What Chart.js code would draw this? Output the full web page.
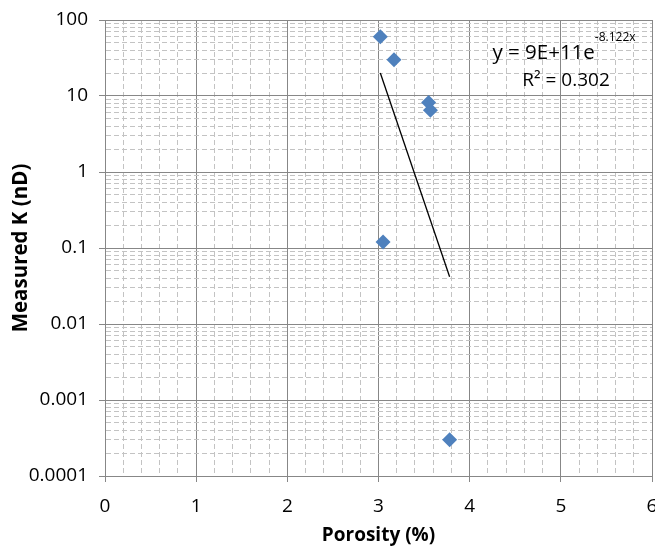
<!DOCTYPE html>
<html>
<head>
<meta charset="utf-8">
<script src="https://cdn.jsdelivr.net/npm/chart.js@4.4.1/dist/chart.umd.min.js"></script>
<style>
  html, body { margin: 0; padding: 0; background: #fff; }
  #chart { display: block; }
</style>
</head>
<body>
<canvas id="chart" width="655" height="547"></canvas>
<script>
// porosity (%) vs measured permeability (nD)
const porosity  = [3.02, 3.17, 3.55, 3.57, 3.05, 3.78];
const measuredK = [60, 30, 8.2, 6.5, 0.12, 0.0003];

// exponential trendline  y = 9E+11 e^(-8.122x),  R² = 0.302
const trendA = 9e11;
const trendB = -8.122;
const trendR2 = '0.302';

const xTickLabels = [0, 1, 2, 3, 4, 5, 6];
const yTickLabels = [0.0001, 0.001, 0.01, 0.1, 1, 10, 100];

const majorColor = '#878787';
const minorColor = '#c3c3c3';
const pointColor = '#4f81bd';
const font = 'Open Sans';

const points = porosity.map((x, i) => ({ x: x, y: measuredK[i] }));
const xMin = Math.min(...porosity), xMax = Math.max(...porosity);
const trendPoints = [xMin, xMax].map(x => ({ x: x, y: trendA * Math.exp(trendB * x) }));

// grid ticks: majors at the labels, 4 minors between x labels, 2..9 inside each decade
function xGridTicks() {
  let t = [];
  for (let i = 0; i < xTickLabels.length; i++) {
    t.push({ value: xTickLabels[i], major: true });
    if (i < xTickLabels.length - 1) {
      for (let k = 1; k < 5; k++) {
        t.push({ value: xTickLabels[i] + k * (xTickLabels[i + 1] - xTickLabels[i]) / 5, major: false });
      }
    }
  }
  return t;
}
function yGridTicks() {
  let t = [];
  for (let i = 0; i < yTickLabels.length; i++) {
    t.push({ value: yTickLabels[i], major: true });
    if (i < yTickLabels.length - 1) {
      for (let k = 2; k < 10; k++) t.push({ value: yTickLabels[i] * k, major: false });
    }
  }
  return t;
}

const isMajor = c => c.tick && c.tick.major;
function gridOpts() {
  return {
    color: c => isMajor(c) ? majorColor : minorColor,
    tickColor: c => isMajor(c) ? majorColor : 'rgba(0,0,0,0)',
    lineWidth: 1,
    tickLength: 6
  };
}
function borderOpts() {
  return {
    color: majorColor,
    width: 1,
    dash: c => (c.tick && !c.tick.major) ? [5, 3] : []
  };
}

// equation label next to the trendline
const equationLabel = {
  id: 'equationLabel',
  afterDatasetsDraw(chart) {
    const ctx = chart.ctx;
    const cx = 564;
    const main = 'y = 9E+11e';
    const sup = '-8.122x';
    ctx.save();
    ctx.fillStyle = '#000';
    ctx.textBaseline = 'alphabetic';
    ctx.font = '20.5px "' + font + '"';
    const wMain = ctx.measureText(main).width;
    ctx.font = '12px "' + font + '"';
    const wSup = ctx.measureText(sup).width;
    const x0 = cx - (wMain + wSup) / 2;
    ctx.textAlign = 'left';
    ctx.font = '20.5px "' + font + '"';
    ctx.fillText(main, x0, 59);
    ctx.font = '12px "' + font + '"';
    ctx.fillText(sup, x0 + wMain, 41);
    ctx.font = '19px "' + font + '"';
    ctx.textAlign = 'center';
    ctx.fillText('R² = ' + trendR2, cx + 2, 86);
    ctx.restore();
  }
};

new Chart(document.getElementById('chart'), {
  type: 'scatter',
  data: {
    datasets: [
      {
        label: 'Measured K',
        data: points,
        pointStyle: 'rectRot',
        pointRadius: 7.5,
        pointHoverRadius: 7.5,
        backgroundColor: pointColor,
        borderColor: pointColor,
        borderWidth: 0,
        order: 2
      },
      {
        label: 'Expon. trend',
        data: trendPoints,
        showLine: true,
        borderColor: '#000',
        borderWidth: 1.3,
        pointRadius: 0,
        fill: false,
        order: 1
      }
    ]
  },
  options: {
    responsive: false,
    animation: false,
    devicePixelRatio: 1,
    layout: { autoPadding: false, padding: { left: 0, right: 3, top: 20, bottom: 0 } },
    plugins: {
      legend: { display: false },
      tooltip: { enabled: false }
    },
    scales: {
      x: {
        type: 'linear',
        position: 'bottom',
        min: 0,
        max: 6,
        afterBuildTicks: s => { s.ticks = xGridTicks(); },
        afterFit: s => { s.height = 71; s.paddingLeft = 0; s.paddingRight = 0; },
        ticks: {
          autoSkip: false,
          maxRotation: 0,
          padding: 13,
          color: '#000',
          font: { family: font, size: 19 },
          callback: (v, i, t) => t[i].major ? String(v) : ''
        },
        grid: gridOpts(),
        border: borderOpts(),
        title: {
          display: true,
          text: 'Porosity (%)',
          color: '#000',
          font: { family: font, size: 19, weight: 'bold' },
          padding: { top: 0, bottom: 0 }
        }
      },
      y: {
        type: 'logarithmic',
        position: 'left',
        min: 0.0001,
        max: 100,
        afterBuildTicks: s => { s.ticks = yGridTicks(); },
        afterFit: s => { s.width = 105; s.paddingTop = 0; s.paddingBottom = 0; },
        ticks: {
          autoSkip: false,
          padding: 11,
          color: '#000',
          font: { family: font, size: 19 },
          callback: (v, i, t) => t[i].major ? String(v) : ''
        },
        grid: gridOpts(),
        border: borderOpts(),
        title: {
          display: true,
          text: 'Measured K (nD)',
          color: '#000',
          font: { family: font, size: 20.5, weight: 'bold' },
          padding: { top: 9, bottom: 0 }
        }
      }
    }
  },
  plugins: [equationLabel]
});
</script>
</body>
</html>
